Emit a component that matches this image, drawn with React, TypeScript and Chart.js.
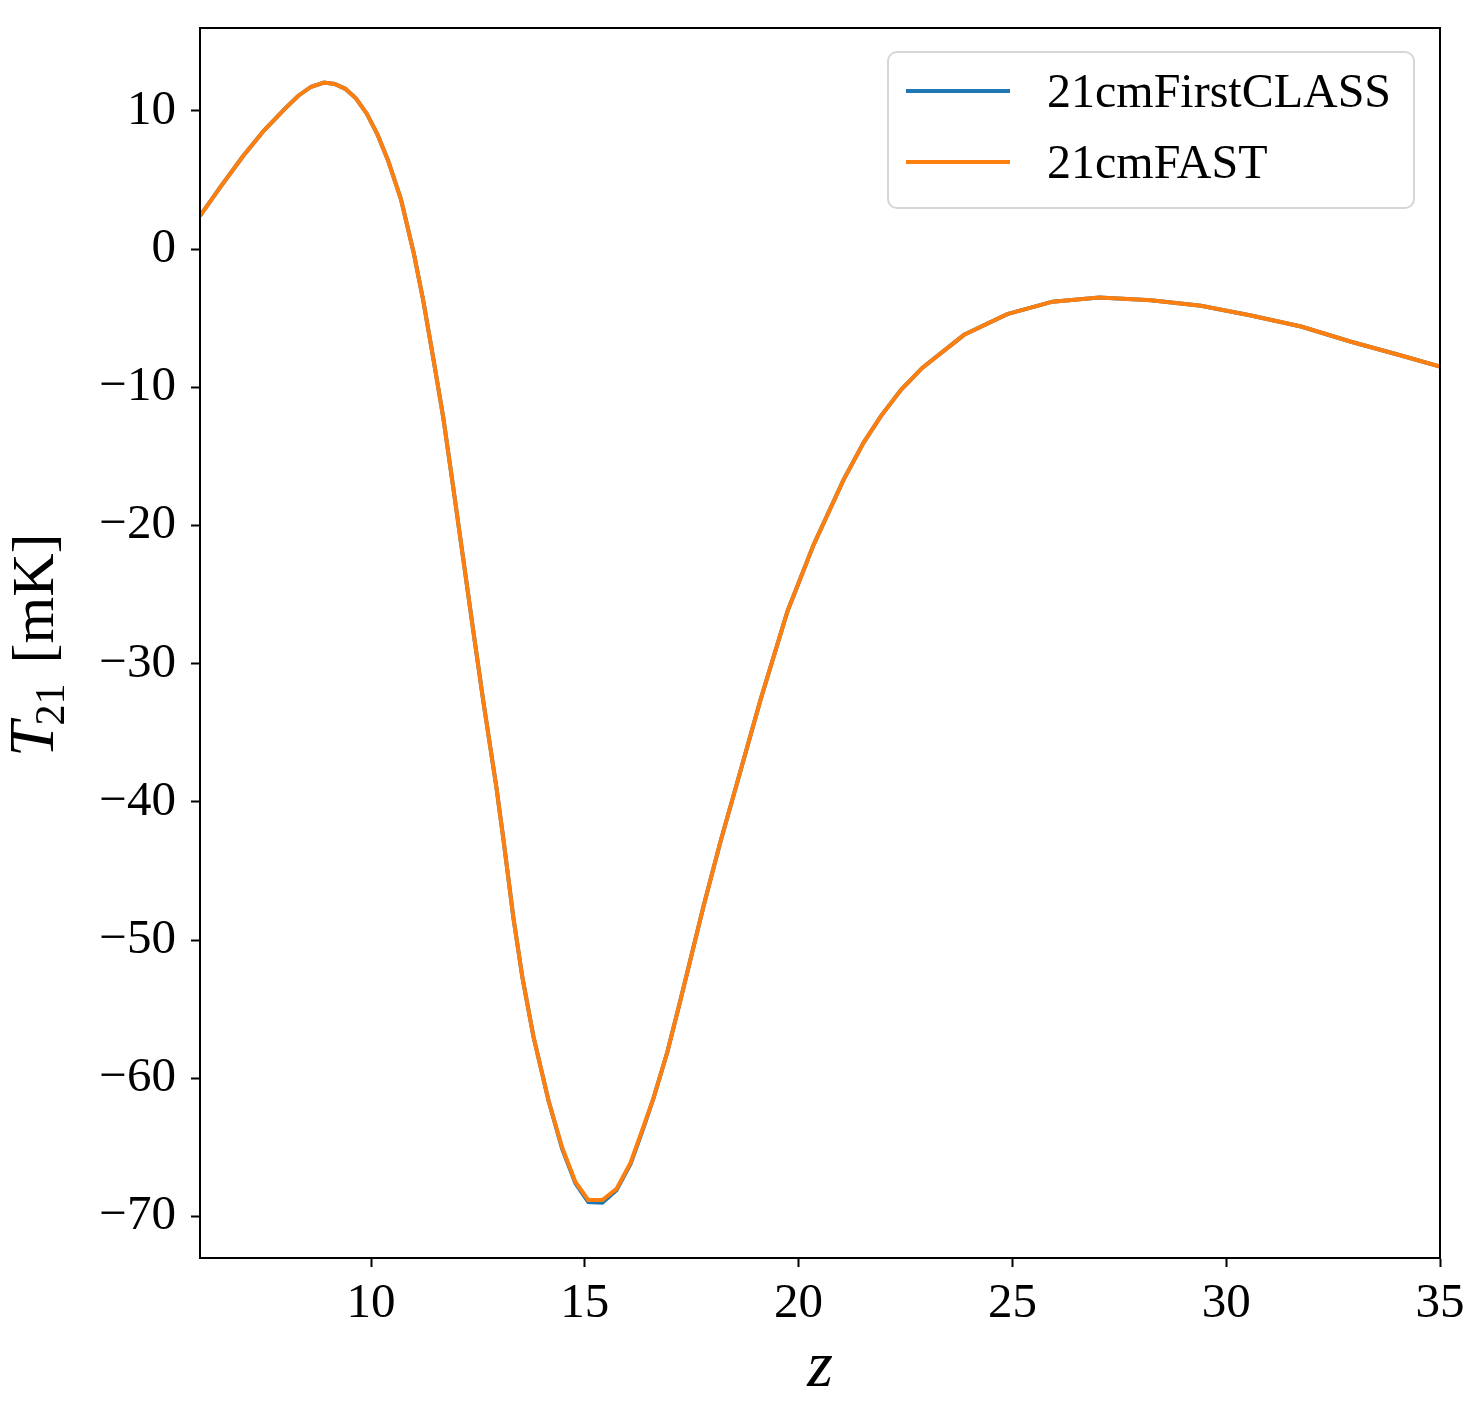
import React, { useEffect, useRef } from "react";
import { Chart, registerables } from "chart.js";

Chart.register(...registerables);

// redshift samples
const zValues = [
  6.0, 6.5, 7.0, 7.5, 8.0, 8.3, 8.6, 8.9, 9.15, 9.4, 9.65, 9.9, 10.15, 10.4,
  10.7, 11.0, 11.22, 11.45, 11.69, 11.92, 12.16, 12.39, 12.63, 12.93, 13.1,
  13.33, 13.54, 13.8, 14.15, 14.47, 14.78, 15.08, 15.41, 15.74, 16.07, 16.37,
  16.61, 16.93, 17.24, 17.78, 18.17, 18.59, 19.11, 19.74, 20.35, 21.05, 21.52,
  21.92, 22.39, 22.89, 23.87, 24.88, 25.94, 27.03, 28.24, 29.41, 30.58, 31.75,
  32.92, 34.09, 35.0,
];

// brightness temperature [mK]
const t21cmFirstCLASS = [
  2.4, 4.6, 6.7, 8.6, 10.2, 11.1, 11.75, 12.05, 11.95, 11.6, 10.9, 9.8, 8.3,
  6.4, 3.6, -0.3, -3.7, -7.8, -12.2, -17.2, -22.5, -27.6, -32.8, -38.9, -42.8,
  -48.4, -52.7, -57.0, -61.6, -65.1, -67.6, -68.95, -69.0, -68.1, -66.2, -63.6,
  -61.4, -58.1, -54.3, -47.5, -42.9, -38.3, -32.6, -26.2, -21.4, -16.7, -14.0,
  -12.1, -10.2, -8.6, -6.2, -4.7, -3.8, -3.5, -3.7, -4.1, -4.8, -5.6, -6.7,
  -7.7, -8.5,
];

const t21cmFAST = [
  2.4, 4.6, 6.7, 8.6, 10.2, 11.1, 11.75, 12.05, 11.95, 11.6, 10.9, 9.8, 8.3,
  6.4, 3.6, -0.3, -3.7, -7.8, -12.2, -17.2, -22.5, -27.6, -32.8, -38.9, -42.8,
  -48.4, -52.7, -57.0, -61.6, -65.0, -67.5, -68.8, -68.8, -68.0, -66.1, -63.5,
  -61.4, -58.1, -54.3, -47.5, -42.9, -38.3, -32.6, -26.2, -21.4, -16.7, -14.0,
  -12.1, -10.2, -8.6, -6.2, -4.7, -3.8, -3.5, -3.7, -4.1, -4.8, -5.6, -6.7,
  -7.7, -8.5,
];

const seriesLabels = ["21cmFirstCLASS", "21cmFAST"];
const seriesColors = ["#1f77b4", "#ff7f0e"];

const xTicks = [10, 15, 20, 25, 30, 35];
const yTicks = [-70, -60, -50, -40, -30, -20, -10, 0, 10];
const xRange = [6, 35];
const yRange = [-73, 16];

const SERIF = '"Liberation Serif", "Times New Roman", serif';

const fmt = (v: number) => (v < 0 ? "\u2212" + Math.abs(v) : String(v));

const framePlugin = {
  id: "frame",
  afterDraw(chart: any) {
    const { ctx, chartArea: a } = chart;
    ctx.save();
    ctx.strokeStyle = "#000";
    ctx.lineWidth = 2;
    ctx.strokeRect(a.left, a.top, a.right - a.left, a.bottom - a.top);
    ctx.restore();
  },
};

const titlesPlugin = {
  id: "titles",
  afterDraw(chart: any) {
    const { ctx, chartArea: a } = chart;
    ctx.save();
    ctx.fillStyle = "#000";
    ctx.textBaseline = "alphabetic";
    // y-axis title: T_21 [mK]
    ctx.translate(53, 757);
    ctx.rotate(-Math.PI / 2);
    ctx.font = `italic 64px ${SERIF}`;
    ctx.fillText("T", 0, 0);
    let w = ctx.measureText("T").width;
    ctx.font = `42px ${SERIF}`;
    ctx.fillText("21", w - 4, 11);
    w += ctx.measureText("21").width - 4;
    ctx.font = `60px ${SERIF}`;
    ctx.fillText("[mK]", w + 20, 0);
    ctx.restore();

    // x-axis title: z
    ctx.save();
    ctx.fillStyle = "#000";
    ctx.font = `italic 66px ${SERIF}`;
    ctx.textAlign = "center";
    ctx.textBaseline = "alphabetic";
    ctx.fillText("z", (a.left + a.right) / 2, 1386);
    ctx.restore();
  },
};

const legendPlugin = {
  id: "boxLegend",
  afterDraw(chart: any) {
    const { ctx } = chart;
    const x0 = 888, y0 = 52, x1 = 1414, y1 = 208;
    ctx.save();
    ctx.beginPath();
    ctx.roundRect(x0, y0, x1 - x0, y1 - y0, 9);
    ctx.fillStyle = "rgba(255,255,255,0.8)";
    ctx.fill();
    ctx.strokeStyle = "#d6d6d6";
    ctx.lineWidth = 2;
    ctx.stroke();
    const rows = [91, 162];
    chart.data.datasets.forEach((ds: any, i: number) => {
      const y = rows[i];
      ctx.beginPath();
      ctx.moveTo(906, y);
      ctx.lineTo(1010, y);
      ctx.strokeStyle = ds.borderColor;
      ctx.lineWidth = 4;
      ctx.stroke();
      ctx.fillStyle = "#000";
      ctx.font = `48px ${SERIF}`;
      ctx.textBaseline = "alphabetic";
      ctx.textAlign = "left";
      ctx.fillText(ds.label, 1047, y + 16);
    });
    ctx.restore();
  },
};

export default function App() {
  const canvasRef = useRef<HTMLCanvasElement | null>(null);

  useEffect(() => {
    const canvas = canvasRef.current;
    if (!canvas) return;
    const seriesValues = [t21cmFirstCLASS, t21cmFAST];
    const chart = new Chart(canvas, {
      type: "line",
      data: {
        datasets: seriesLabels.map((label, i) => ({
          label,
          data: zValues.map((z, k) => ({ x: z, y: seriesValues[i][k] })),
          borderColor: seriesColors[i],
          backgroundColor: seriesColors[i],
          borderWidth: 4,
          pointRadius: 0,
          tension: 0,
          fill: false,
          order: seriesLabels.length - i,
        })),
      },
      options: {
        responsive: false,
        animation: false,
        events: [],
        layout: { padding: { top: 28, right: 30, left: 0, bottom: 0 } },
        plugins: {
          legend: { display: false },
          tooltip: { enabled: false },
        },
        scales: {
          x: {
            type: "linear",
            min: xRange[0],
            max: xRange[1],
            afterBuildTicks: (s: any) => {
              s.ticks = xTicks.map((v) => ({ value: v }));
            },
            afterFit: (s: any) => {
              s.height = 145;
              s.paddingLeft = 0;
              s.paddingRight = 0;
              s.paddingTop = 0;
              s.paddingBottom = 0;
            },
            ticks: {
              callback: (v: any) => fmt(Number(v)),
              color: "#000",
              font: { family: SERIF, size: 49, lineHeight: 1 },
              padding: 13,
              maxRotation: 0,
              autoSkip: false,
            },
            grid: {
              display: true,
              drawOnChartArea: false,
              drawTicks: true,
              tickLength: 9,
              tickWidth: 2,
              tickColor: "#000",
              color: "#000",
            },
            border: { display: true, color: "#000", width: 2 },
          },
          y: {
            type: "linear",
            min: yRange[0],
            max: yRange[1],
            afterBuildTicks: (s: any) => {
              s.ticks = yTicks.map((v) => ({ value: v }));
            },
            afterFit: (s: any) => {
              s.width = 200;
              s.paddingLeft = 0;
              s.paddingRight = 0;
              s.paddingTop = 0;
              s.paddingBottom = 0;
            },
            ticks: {
              callback: (v: any) => fmt(Number(v)),
              color: "#000",
              font: { family: SERIF, size: 49, lineHeight: 1 },
              padding: 15,
              autoSkip: false,
            },
            grid: {
              display: true,
              drawOnChartArea: false,
              drawTicks: true,
              tickLength: 9,
              tickWidth: 2,
              tickColor: "#000",
              color: "#000",
            },
            border: { display: true, color: "#000", width: 2 },
          },
        },
      },
      plugins: [framePlugin, titlesPlugin, legendPlugin],
    });
    return () => chart.destroy();
  }, []);

  return (
    <div style={{ position: "absolute", left: 0, top: 0, width: 1470, height: 1403, background: "#fff" }}>
      <canvas ref={canvasRef} width={1470} height={1403} style={{ display: "block" }} />
    </div>
  );
}
